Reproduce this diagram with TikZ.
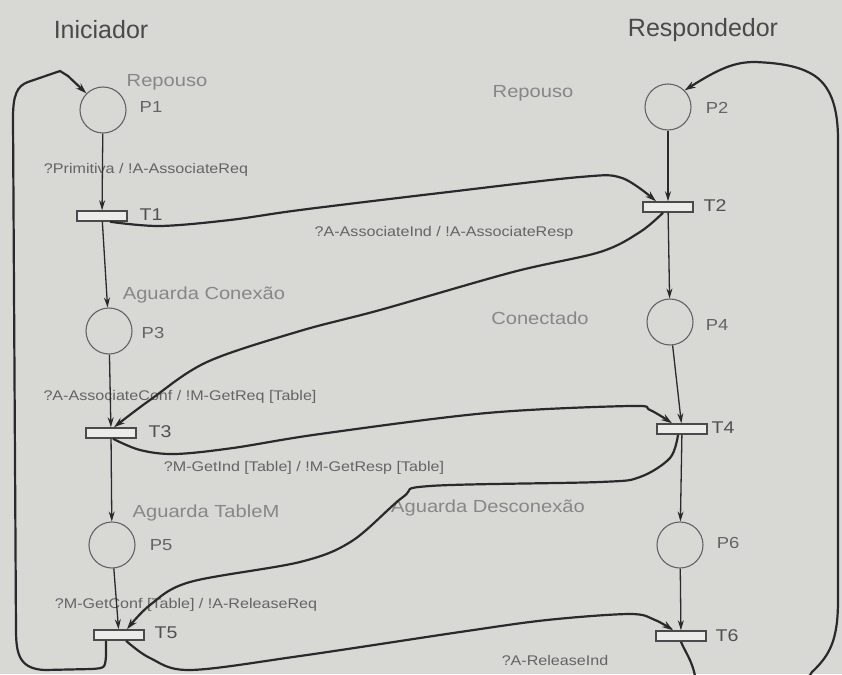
\documentclass[tikz,border=0pt]{standalone}
\usepackage{fontspec}
\setmainfont{Liberation Sans}
\newfontfamily\wide[FakeStretch=1.15]{Liberation Sans}
\usetikzlibrary{arrows.meta}
\definecolor{paper}{RGB}{216,216,212}
\definecolor{ink}{RGB}{42,42,42}
\definecolor{soft}{RGB}{100,100,100}
\definecolor{pale}{RGB}{135,135,135}
\begin{document}
\begin{tikzpicture}[x=1pt,y=-1pt,
  place/.style={circle,draw=soft,line width=1.1pt,minimum size=46pt,inner sep=0pt},
  trans/.style={rectangle,draw=ink!85,line width=1.5pt,minimum width=50pt,minimum height=10pt,inner sep=0pt,fill=paper!50!white},
  arc/.style={draw=ink,line width=1.3pt,-{Stealth[length=10pt,width=6pt]}},
  link/.style={draw=ink,line width=2.2pt,-{Stealth[length=11pt,width=7pt]}},
  lbl/.style={text=soft,font=\wide\fontsize{14}{16}\selectfont,inner sep=0pt},
  pname/.style={text=soft,font=\wide\fontsize{16}{18}\selectfont,inner sep=0pt},
  tname/.style={text=soft!80!black,font=\wide\fontsize{17}{19}\selectfont,inner sep=0pt},
  statelbl/.style={text=pale,font=\wide\fontsize{17.5}{20}\selectfont,inner sep=0pt},
  head/.style={text=ink!85,font=\fontsize{25}{29}\selectfont,inner sep=0pt}
]
\useasboundingbox (0,0) rectangle (842,674);
\fill[paper] (0,0) rectangle (842,674);
\clip (0,0) rectangle (842,674);

% column headings
\node[head] (hI) at (101,30) {Iniciador};
\node[head] (hR) at (703,30) {Respondedor};

% places
\node[place] (P1) at (103,110) {};
\node[place] (P2) at (668,107) {};
\node[place] (P3) at (109,331) {};
\node[place] (P4) at (670,322) {};
\node[place] (P5) at (112,545) {};
\node[place] (P6) at (680,545) {};

% transitions
\node[trans] (T1) at (102,216) {};
\node[trans] (T2) at (668,207) {};
\node[trans] (T3) at (111,433) {};
\node[trans] (T4) at (682,429) {};
\node[trans] (T5) at (119,635) {};
\node[trans] (T6) at (681,636) {};

% place and transition names
\node[pname] (nP1) at (151,107) {P1};
\node[pname] (nP2) at (717,108) {P2};
\node[pname] (nP3) at (153,333) {P3};
\node[pname] (nP4) at (717,325) {P4};
\node[pname] (nP5) at (161,545) {P5};
\node[pname] (nP6) at (728,543) {P6};
\node[tname] (nT1) at (151,215) {T1};
\node[tname] (nT2) at (715,206) {T2};
\node[tname] (nT3) at (160,432) {T3};
\node[tname] (nT4) at (723,428) {T4};
\node[tname] (nT5) at (166,633) {T5};
\node[tname] (nT6) at (727,636) {T6};

% state names
\node[statelbl] (sR1) at (167,82) {Repouso};
\node[statelbl] (sR2) at (533,93) {Repouso};
\node[statelbl] (sAC) at (204,295) {Aguarda Conexão};
\node[statelbl] (sCo) at (540,318) {Conectado};
\node[statelbl] (sAT) at (206,513) {Aguarda TableM};
\node[statelbl] (sAD) at (488,508) {Aguarda Desconexão};

% events and actions
\node[lbl] (e1) at (146,170) {?Primitiva / !A-AssociateReq};
\node[lbl] (e2) at (444,233) {?A-AssociateInd / !A-AssociateResp};
\node[lbl] (e3) at (180,397) {?A-AssociateConf / !M-GetReq [Table]};
\node[lbl] (e4) at (304,468) {?M-GetInd [Table] / !M-GetResp [Table]};
\node[lbl] (e5) at (186,605) {?M-GetConf [Table] / !A-ReleaseReq};
\node[lbl] (e6) at (555,660) {?A-ReleaseInd};

% local flow in each column
\draw[arc] (P1) -- (T1);
\draw[arc] (T1) -- (P3);
\draw[arc] (P3) -- (T3);
\draw[arc] (T3) -- (P5);
\draw[arc] (P5) -- (T5);
\draw[arc] (P2) -- (T2);
\draw[arc] (T2) -- (P4);
\draw[arc] (P4) -- (T4);
\draw[arc] (T4) -- (P6);
\draw[arc] (P6) -- (T6);

% messages between the two sides
\draw[link] plot[smooth,tension=0.55] coordinates {([xshift=8pt]T1.south) (160,226) (230,220) (300,210) (440,193) (580,177) (622,178) ([xshift=-12pt]T2.north)};
\draw[link] plot[smooth,tension=0.55] coordinates {([xshift=-5pt]T2.south) (640,232) (600,252) (513,272) (380,310) (300,331) (207,362) (150,400) ([xshift=3pt]T3.north)};
\draw[link] plot[smooth,tension=0.55] coordinates {([xshift=2pt]T3.south) (140,450) (175,454) (233,448) (320,434) (487,413) (630,406) (650,410) ([xshift=-10pt]T4.north)};
\draw[link] plot[smooth,tension=0.55] coordinates {([xshift=-4pt]T4.south) (670,458) (640,477) (600,482) (430,486) (403,497) (352,541) (300,562) (190,582) (150,605) ([xshift=8pt]T5.north)};
\draw[link] plot[smooth,tension=0.55] coordinates {([xshift=7pt]T5.south) (150,658) (190,670) (300,656) (460,632) (547,620) (630,614) (655,620) ([xshift=-8pt]T6.north)};

% return loops to the idle states
\draw[link] ([xshift=-13pt]T5.south) -- (106,656) .. controls (105,668) .. (92,669) -- (45,670)
  .. controls (20,669) and (16,655) .. (16,630) -- (13,118)
  .. controls (13,95) and (17,86) .. (28,82) -- (60,71) -- (68,76) -- (P1.135);
\draw[link] (T6.south) .. controls (684,650) and (692,660) .. (695,676) -- (695,690) -- (800,690)
  -- (812,672) .. controls (830,655) and (838,640) .. (838,600) -- (838,140)
  .. controls (838,110) and (832,88) .. (815,76) .. controls (800,66) and (780,63) .. (755,62)
  .. controls (735,62) and (720,68) .. (P2.45);
\end{tikzpicture}
\end{document}
